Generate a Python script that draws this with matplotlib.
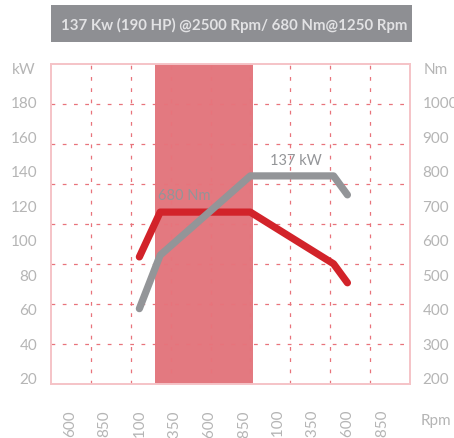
import matplotlib
matplotlib.use('Agg')
import matplotlib.pyplot as plt
import matplotlib.patches as patches

# data
rpm_ticks = [600, 850, 1100, 1350, 1600, 1850, 2100, 2350, 2600, 2850]
kw_ticks = [20, 40, 60, 80, 100, 120, 140, 160, 180]
nm_ticks = [200, 300, 400, 500, 600, 700, 800, 900, 1000]

torque_rpm = [1100, 1250, 1900, 2500, 2600]
torque_nm = [550, 680, 680, 530, 475]

power_rpm = [1100, 1250, 1900, 2500, 2600]
power_kw = [60, 91, 137, 137, 126]

band_rpm = (1210, 1920)
title = "137 Kw (190 HP) @2500 Rpm/ 680 Nm@1250 Rpm"

RED = '#d2232a'
GRAY = '#939598'
PINK = '#f5c3c7'
GRID = '#e8737b'
LABEL = '#b5b5b5'

plt.rcParams['font.family'] = ['Lato', 'DejaVu Sans']

fig = plt.figure(figsize=(4.54, 4.39), dpi=100)
ax = fig.add_axes([51/454, 54/439, 359/454, 320/439])
ax.set_xlim(463, 3051)
ax.set_ylim(16.3, 201.9)

def kw_to_nm(v):
    return 200 + (v - 20) * 5

# torque axis sits underneath, power axis on top
ax2 = ax.twinx()
ax2.set_ylim(kw_to_nm(16.3), kw_to_nm(201.9))
ax.set_zorder(ax2.get_zorder() + 1)
ax.patch.set_visible(False)

# shaded band
ax2.axvspan(band_rpm[0], band_rpm[1], color='#e37980', zorder=1, lw=0)

# dashed grid in axes fractions
for k in range(1, 8):
    ax2.plot([0, 1], [k/8, k/8], transform=ax2.transAxes, color=GRID,
             lw=0.9, dashes=(3, 6), zorder=2)
for k in range(1, 9):
    ax2.plot([k/9, k/9], [0, 1], transform=ax2.transAxes, color=GRID,
             lw=0.9, dashes=(3, 6), zorder=2)

# curves
ax2.plot(torque_rpm, torque_nm, color=RED, lw=5.2, solid_capstyle='round',
         solid_joinstyle='round', zorder=4)
ax.plot(power_rpm, power_kw, color=GRAY, lw=5.2, solid_capstyle='round',
        solid_joinstyle='round', zorder=5)

ax.text(1420, 126, "680 Nm", color=GRAY, fontsize=10.5, ha='center', va='center', zorder=6)
ax.text(2225, 146.5, "137 kW", color=GRAY, fontsize=10.5, ha='center', va='center', zorder=6)

for a in (ax, ax2):
    for s in a.spines.values():
        s.set_color(PINK)
        s.set_linewidth(1.2)

ax.set_yticks(kw_ticks, [str(v) for v in kw_ticks])
ax2.set_yticks(nm_ticks, [str(v) for v in nm_ticks])
ax.set_xticks(rpm_ticks, [str(v) for v in rpm_ticks], rotation=90, va='top')
ax.tick_params(axis='y', length=0, pad=10, labelsize=11, labelcolor=LABEL)
ax2.tick_params(axis='y', length=0, pad=9, labelsize=11, labelcolor=LABEL)
ax.tick_params(axis='x', length=0, pad=18, labelsize=11, labelcolor=LABEL)

fig.text(24/454, 1 - 70/439, "kW", color=LABEL, fontsize=11, ha='center', va='center')
fig.text(436/454, 1 - 70/439, "Nm", color=LABEL, fontsize=11, ha='center', va='center')
fig.text(436/454, 1 - 421/439, "Rpm", color=LABEL, fontsize=11, ha='center', va='center')

# title box
fig.patches.append(patches.Rectangle((51/454, 1 - 43/439), 361/454, 37/439,
                                     transform=fig.transFigure, color='#8e8f93', lw=0))
fig.text(234/454, 1 - 25/439, title, color='#e2e2e4', fontsize=10.8, fontweight='bold',
         ha='center', va='center')

fig.savefig('out.png', dpi=100)
